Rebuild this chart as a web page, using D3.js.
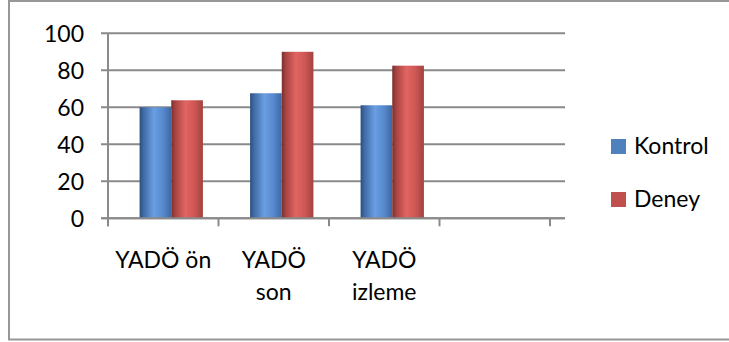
<!DOCTYPE html>
<html>
<head>
<meta charset="utf-8">
<script src="https://cdn.jsdelivr.net/npm/d3@7/dist/d3.min.js"></script>
<style>
  body { margin: 0; background: #fff; }
  text { font-family: Lato, "Open Sans", sans-serif; fill: #000; }
</style>
</head>
<body>
<div id="chart"></div>
<script>
// data
const categories = ["YADÖ ön", "YADÖ son", "YADÖ izleme", ""];
const catLabels = [["YADÖ ön"], ["YADÖ", "son"], ["YADÖ", "izleme"], []];
const seriesNames = ["Kontrol", "Deney"];
const kontrol = [60, 67.6, 61.1, null];
const deney = [63.8, 90, 82.5, null];
const yTicks = [0, 20, 40, 60, 80, 100];

const w = 729, h = 342;
let plotLeft = 108, plotRight = 550, plotTop = 33.3, plotBottom = 218.3;
let gridEnd = 565, barShift = 8;
let fontSize = 23;

let svg = d3.select("#chart")
    .append("svg")
    .attr("width", w)
    .attr("height", h);

// gradients, excel 2007 look
let defs = svg.append("defs");
function makeGrad(id, stops) {
    let g = defs.append("linearGradient")
        .attr("id", id)
        .attr("x1", "0%").attr("x2", "100%")
        .attr("y1", "0%").attr("y2", "0%");
    stops.forEach(s => g.append("stop").attr("offset", s[0]).attr("stop-color", s[1]));
}
makeGrad("gBlue", [["0%", "#2d4f7c"], ["12%", "#3f6aa5"], ["45%", "#6a9ee2"], ["75%", "#5688cc"], ["100%", "#3e679f"]]);
makeGrad("gRed", [["0%", "#7a2e2c"], ["12%", "#a54341"], ["45%", "#e26562"], ["75%", "#cc5653"], ["100%", "#a04240"]]);
const fills = ["url(#gBlue)", "url(#gRed)"];
const legendColors = ["#4f81bd", "#c0504d"];

// outer border
svg.append("rect")
    .attr("x", 9).attr("y", 1)
    .attr("width", w + 10).attr("height", 338.5)
    .attr("fill", "none")
    .attr("stroke", "#979797")
    .attr("stroke-width", 2);

let xScale = d3.scaleBand()
    .domain(categories.map((c, i) => i))
    .range([plotLeft, plotRight]);
let yScale = d3.scaleLinear()
    .domain([0, 100])
    .range([plotBottom, plotTop]);
let x1 = d3.scaleBand()
    .domain(seriesNames)
    .range([0, xScale.bandwidth()])
    .paddingInner(0)
    .paddingOuter(0.745);

// gridlines
svg.append("g")
    .selectAll("line")
    .data(yTicks)
    .enter()
    .append("line")
    .attr("x1", plotLeft - 7)
    .attr("x2", gridEnd)
    .attr("y1", d => yScale(d))
    .attr("y2", d => yScale(d))
    .attr("stroke", "#8a8a8a")
    .attr("stroke-width", 2);

// y axis line
svg.append("line")
    .attr("x1", plotLeft).attr("x2", plotLeft)
    .attr("y1", plotTop).attr("y2", plotBottom + 8)
    .attr("stroke", "#8a8a8a")
    .attr("stroke-width", 2);

// category ticks
svg.append("g")
    .selectAll("line")
    .data(d3.range(categories.length + 1))
    .enter()
    .append("line")
    .attr("x1", i => plotLeft + i * xScale.step())
    .attr("x2", i => plotLeft + i * xScale.step())
    .attr("y1", plotBottom)
    .attr("y2", plotBottom + 8)
    .attr("stroke", "#8a8a8a")
    .attr("stroke-width", 2);

// bars
const allSeries = [kontrol, deney];
allSeries.forEach((vals, s) => {
    svg.append("g")
        .selectAll("rect")
        .data(vals.map((v, i) => ({ v: v, i: i })).filter(d => d.v != null))
        .enter()
        .append("rect")
        .attr("x", d => xScale(d.i) + x1(seriesNames[s]) + barShift)
        .attr("width", x1.bandwidth())
        .attr("y", d => yScale(d.v))
        .attr("height", d => yScale(0) - yScale(d.v))
        .attr("fill", fills[s]);
});

// redraw baseline over bars
svg.append("line")
    .attr("x1", plotLeft - 7).attr("x2", gridEnd)
    .attr("y1", yScale(0)).attr("y2", yScale(0))
    .attr("stroke", "#8a8a8a")
    .attr("stroke-width", 2);

// y labels
svg.append("g")
    .selectAll("text")
    .data(yTicks)
    .enter()
    .append("text")
    .attr("x", 84)
    .attr("y", d => yScale(d) + 8.5)
    .attr("text-anchor", "end")
    .attr("font-size", fontSize)
    .text(d => d);

// x labels
let xl = svg.append("g")
    .selectAll("text")
    .data(catLabels)
    .enter()
    .append("text")
    .attr("x", (d, i) => xScale(i) + xScale.bandwidth() / 2)
    .attr("y", 268)
    .attr("text-anchor", "middle")
    .attr("font-size", fontSize);
xl.selectAll("tspan")
    .data(d => d)
    .enter()
    .append("tspan")
    .attr("x", function() { return d3.select(this.parentNode).attr("x"); })
    .attr("dy", (d, j) => j == 0 ? 0 : 32)
    .text(d => d);

// legend
let legend = svg.append("g")
    .selectAll("g")
    .data(seriesNames)
    .enter()
    .append("g")
    .attr("transform", (d, i) => "translate(611," + (139 + i * 53) + ")");
legend.append("rect")
    .attr("width", 15)
    .attr("height", 15)
    .attr("fill", (d, i) => legendColors[i]);
legend.append("text")
    .attr("x", 23)
    .attr("y", 15)
    .attr("font-size", fontSize)
    .text(d => d);
</script>
</body>
</html>
